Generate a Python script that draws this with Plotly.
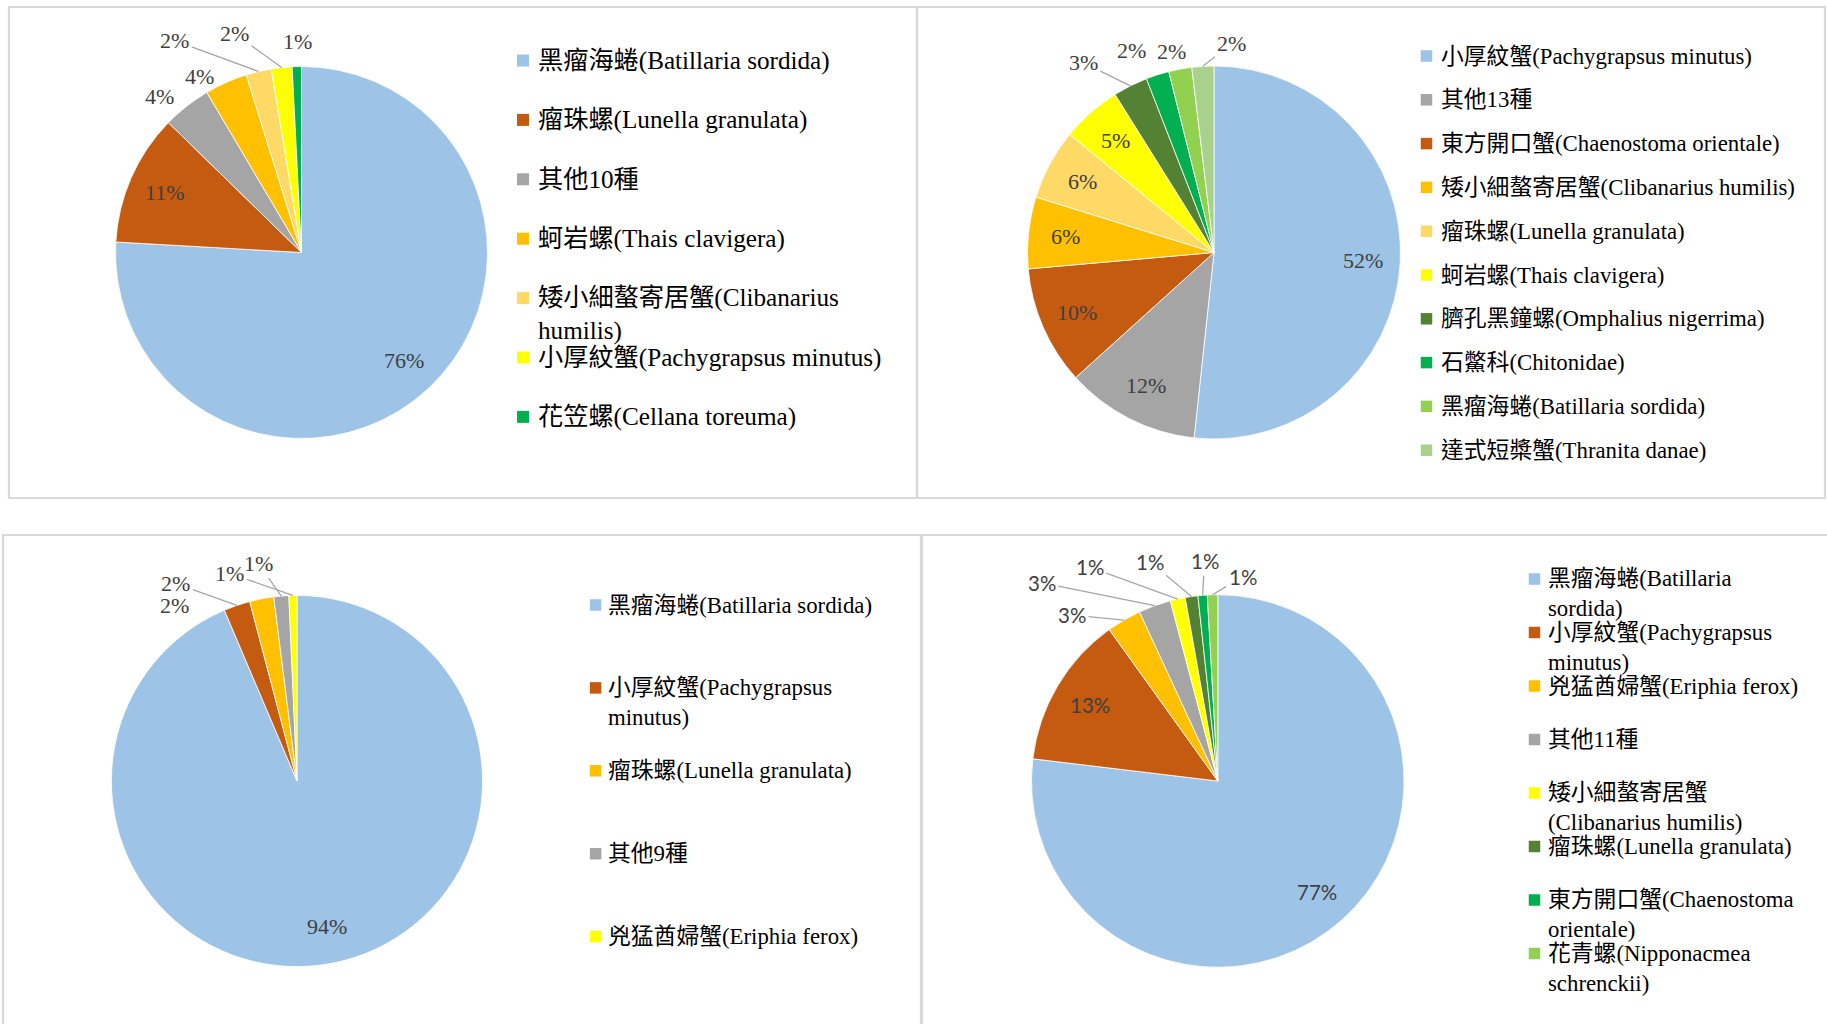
import math
import plotly.graph_objects as go

# ---------------- data ----------------
labels_1 = ["黑瘤海蜷(Batillaria sordida)", "瘤珠螺(Lunella granulata)", "其他10種",
            "蚵岩螺(Thais clavigera)", "矮小細螯寄居蟹(Clibanarius<br>humilis)",
            "小厚紋蟹(Pachygrapsus minutus)", "花笠螺(Cellana toreuma)"]
values_1 = [75.9, 11.4, 4.2, 3.7, 2.2, 1.8, 0.8]

labels_2 = ["小厚紋蟹(Pachygrapsus minutus)", "其他13種", "東方開口蟹(Chaenostoma orientale)",
            "矮小細螯寄居蟹(Clibanarius humilis)", "瘤珠螺(Lunella granulata)",
            "蚵岩螺(Thais clavigera)", "臍孔黑鐘螺(Omphalius nigerrima)", "石鱉科(Chitonidae)",
            "黑瘤海蜷(Batillaria sordida)", "達式短槳蟹(Thranita danae)"]
values_2 = [51.7, 11.6, 10.3, 6.2, 6.1, 5.2, 3.0, 2.0, 2.0, 1.9]

labels_3 = ["黑瘤海蜷(Batillaria sordida)", "小厚紋蟹(Pachygrapsus<br>minutus)",
            "瘤珠螺(Lunella granulata)", "其他9種", "兇猛酋婦蟹(Eriphia ferox)"]
values_3 = [93.6, 2.3, 2.1, 1.3, 0.7]

labels_4 = ["黑瘤海蜷(Batillaria<br>sordida)", "小厚紋蟹(Pachygrapsus<br>minutus)",
            "兇猛酋婦蟹(Eriphia ferox)", "其他11種", "矮小細螯寄居蟹<br>(Clibanarius humilis)",
            "瘤珠螺(Lunella granulata)", "東方開口蟹(Chaenostoma<br>orientale)",
            "花青螺(Nipponacmea<br>schrenckii)"]
values_4 = [76.9, 13.2, 3.0, 2.8, 1.3, 1.1, 0.8, 0.9]

# ---------------- styles ----------------
BLUE, ORANGE, GRAY, GOLD = "#9DC3E6", "#C55A11", "#A5A5A5", "#FFC000"
LGOLD, YELLOW, GREEN = "#FFD966", "#FFFF00", "#00B050"
DKGREEN, LGREEN, PGREEN = "#548235", "#92D050", "#A9D18E"

colors_1 = [BLUE, ORANGE, GRAY, GOLD, LGOLD, YELLOW, GREEN]
colors_2 = [BLUE, GRAY, ORANGE, GOLD, LGOLD, YELLOW, DKGREEN, GREEN, LGREEN, PGREEN]
colors_3 = [BLUE, ORANGE, GOLD, GRAY, YELLOW]
colors_4 = [BLUE, ORANGE, GOLD, GRAY, YELLOW, DKGREEN, GREEN, LGREEN]

# label placement: None -> inside; (dx, dy, leader) -> px offset from slice edge midpoint
place_1 = [None, None, (-27, -10, False), (-27, -6, False), (-84, -31, True),
           (-47, -34, True), (1, -25, False)]
place_2 = [None, None, None, None, None, None, (-47, -23, True), (-26, -24, False),
           (-9, -18, False), (29, -23, True)]
place_3 = [None, (-61, -22, True), (-87, 7, False), (-23, -33, True), (-63, -22, True)]
place_4 = [None, None, (-52, -5, True), (-113, -23, True), (-88, -32, True),
           (-42, -35, True), (2, -34, True), (30, -18, True)]

W, H = 1827, 1024
OX, OY = 0, 0


def fx(X):
    return (X - OX) / W


def fy(Y):
    return 1 - (Y - OY) / H


SERIF = "Liberation Serif, 'Times New Roman', 'Noto Sans CJK TC', serif"
SANS = "Lato, Carlito, 'Liberation Sans', sans-serif"

panels = [
    dict(labels=labels_1, values=values_1, colors=colors_1, place=place_1,
         cx=301.5, cy=252.5, r=186, box=(9, 7, 917, 498),
         mx=523, tx=535.5, y0=60.5, step=59.4, msize=12, fs=25.2,
         lfont=SERIF, lfs=22),
    dict(labels=labels_2, values=values_2, colors=colors_2, place=place_2,
         cx=1214, cy=252.5, r=186.5, box=(917, 7, 1825, 498),
         mx=1426.5, tx=1438.5, y0=56, step=43.8, msize=11.5, fs=22.8,
         lfont=SERIF, lfs=22),
    dict(labels=labels_3, values=values_3, colors=colors_3, place=place_3,
         cx=297, cy=781, r=185.6, box=(3, 535, 921, 1040),
         mx=595.6, tx=606, y0=605, step=82.9, msize=11.5, fs=22.8,
         lfont=SERIF, lfs=22),
    dict(labels=labels_4, values=values_4, colors=colors_4, place=place_4,
         cx=1217.8, cy=781, r=186.3, box=(922, 535, 1840, 1040),
         mx=1534.5, tx=1546, y0=579, step=53.5, msize=11.5, fs=22.8,
         lfont=SANS, lfs=20.5),
]

fig = go.Figure()
shapes = []
annotations = []

for p in panels:
    cx, cy, r = p["cx"], p["cy"], p["r"]
    # panel frame
    x0, y0, x1, y1 = p["box"]
    shapes.append(dict(type="rect", xref="paper", yref="paper",
                       x0=fx(x0), x1=fx(x1), y0=fy(y1), y1=fy(y0),
                       line=dict(color="#D9D9D9", width=2.2), layer="below"))
    # pie
    fig.add_trace(go.Pie(
        labels=[l.replace("<br>", " ") for l in p["labels"]],
        values=p["values"],
        marker=dict(colors=p["colors"], line=dict(color="white", width=0.8)),
        sort=False, direction="clockwise", rotation=0,
        textinfo="none", hoverinfo="label+percent", showlegend=False,
        domain=dict(x=[fx(cx - r), fx(cx + r)], y=[fy(cy + r), fy(cy - r)]),
    ))
    # data labels
    total = sum(p["values"])
    cum = 0.0
    for v, pl in zip(p["values"], p["place"]):
        mid = (cum + v / 2) / total * 2 * math.pi
        cum += v
        txt = f"{v / total * 100:.0f}%"
        font = dict(family=p["lfont"], size=p["lfs"], color="#404040")
        if pl is None:
            X = cx + 0.8 * r * math.sin(mid)
            Y = cy - 0.8 * r * math.cos(mid)
            annotations.append(dict(x=fx(X), y=fy(Y), xref="paper", yref="paper",
                                    text=txt, showarrow=False, font=font,
                                    xanchor="center", yanchor="middle"))
        else:
            dx, dy, leader = pl
            X = cx + r * math.sin(mid)
            Y = cy - r * math.cos(mid)
            if leader:
                annotations.append(dict(x=fx(X), y=fy(Y), xref="paper", yref="paper",
                                        text=txt, showarrow=True, ax=dx, ay=dy,
                                        arrowhead=0, arrowwidth=1.3, arrowcolor="#A6A6A6",
                                        standoff=0, startstandoff=0, font=font,
                                        xanchor="center", yanchor="middle", borderpad=2))
            else:
                annotations.append(dict(x=fx(X), y=fy(Y), xref="paper", yref="paper",
                                        text=txt, showarrow=False, xshift=dx, yshift=-dy,
                                        font=font, xanchor="center", yanchor="middle"))
    # legend
    for i, (lab, col) in enumerate(zip(p["labels"], p["colors"])):
        ry = p["y0"] + i * p["step"]
        s = p["msize"]
        shapes.append(dict(type="rect", xref="paper", yref="paper",
                           x0=fx(p["mx"] - s / 2), x1=fx(p["mx"] + s / 2),
                           y0=fy(ry + s / 2), y1=fy(ry - s / 2),
                           fillcolor=col, line=dict(width=0)))
        nl = lab.count("<br>") + 1
        yc = ry + (nl - 1) * 0.65 * p["fs"]
        annotations.append(dict(x=fx(p["tx"]), y=fy(yc), xref="paper", yref="paper",
                                text=lab, showarrow=False, align="left",
                                xanchor="left", yanchor="middle",
                                font=dict(family=SERIF, size=p["fs"], color="#000000")))

fig.update_layout(
    width=W, height=H,
    margin=dict(l=0, r=0, t=0, b=0),
    paper_bgcolor="white", plot_bgcolor="white",
    shapes=shapes, annotations=annotations,
    showlegend=False,
)

fig.write_html("out.html",
               config={"displayModeBar": False},
               post_script="document.body.style.margin='0';"
                           "document.body.style.overflow='hidden';")
